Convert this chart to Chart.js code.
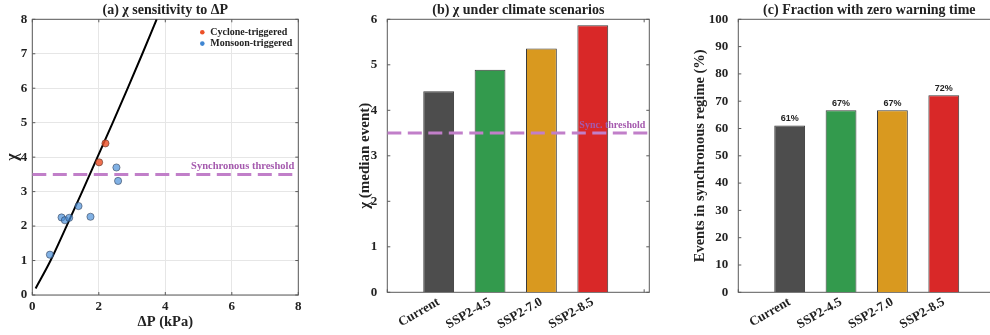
<!DOCTYPE html>
<html>
<head>
<meta charset="utf-8">
<script src="https://cdn.jsdelivr.net/npm/chart.js@4.4.1/dist/chart.umd.min.js"></script>
<style>
    html, body { margin: 0; padding: 0; background: #fff; width: 990px; height: 335px; overflow: hidden; position: relative; }
    canvas { position: absolute; top: 0; }
</style>
</head>
<body>
<canvas id="sensChart" width="330" height="335" style="left:0"></canvas>
<canvas id="chiChart" width="330" height="335" style="left:330px"></canvas>
<canvas id="fracChart" width="345" height="335" style="left:660px"></canvas>
<script>
// Panel (a) - events
const CYCLONE_DP = [2.20, 2.01];
const CYCLONE_CHI = [4.40, 3.85];
const MONSOON_DP = [0.53, 0.88, 0.98, 1.11, 1.39, 1.75, 2.53, 2.58];
const MONSOON_CHI = [1.17, 2.25, 2.17, 2.24, 2.58, 2.27, 3.70, 3.31];
// fitted curve
const CURVE_DP = [0.10, 0.55, 1.03, 1.50, 1.96, 2.42, 2.87, 3.31, 3.74];
const CURVE_CHI = [0.19, 1.00, 2.00, 3.00, 4.00, 5.00, 6.00, 7.00, 8.00];
const SYNC_THRESHOLD = 3.5;

// Panels (b) and (c)
const SCENARIOS = ['Current', 'SSP2-4.5', 'SSP2-7.0', 'SSP2-8.5'];
const CHI_MEDIAN = [4.42, 4.89, 5.36, 5.87];
const SYNC_PCT = [61.1, 66.7, 66.7, 72.2];

// Theme
const FONT = "'Liberation Serif', 'Times New Roman', serif";
const TEXT = '#222';
const FRAME = '#5a5a5a';
const THRESH_LINE = '#c17fc9';
const THRESH_TEXT = '#a55aae';
const BAR_COLORS = ['#4d4d4d', '#339a4d', '#d9991f', '#d92828'];
const TICK_SIZE = 13;

Chart.defaults.font.family = FONT;
Chart.defaults.font.weight = 'bold';
Chart.defaults.color = TEXT;
Chart.defaults.animation = false;
Chart.defaults.plugins.legend.display = false;
Chart.defaults.plugins.tooltip.enabled = false;

const toPoints = (xs, ys) => xs.map((x, i) => ({ x, y: ys[i] }));

// box, inward ticks, title and labels (MATLAB look)
function decor(cfg) {
    return {
        id: 'decor',
        beforeDatasetsDraw(chart) {
            const { ctx, chartArea: a, scales } = chart;
            ctx.save();
            ctx.strokeStyle = FRAME;
            ctx.lineWidth = 1;
            ctx.strokeRect(a.left, a.top, a.right - a.left, a.bottom - a.top);
            const tl = 3;
            ctx.beginPath();
            scales.y.ticks.forEach(t => {
                const p = scales.y.getPixelForValue(t.value);
                ctx.moveTo(a.left, p); ctx.lineTo(a.left + tl, p);
                ctx.moveTo(a.right, p); ctx.lineTo(a.right - tl, p);
            });
            cfg.xTicks.forEach(v => {
                const p = scales.x.getPixelForValue(v);
                ctx.moveTo(p, a.bottom); ctx.lineTo(p, a.bottom - tl);
                ctx.moveTo(p, a.top); ctx.lineTo(p, a.top + tl);
            });
            ctx.stroke();
            ctx.restore();
        },
        afterDraw(chart) {
            const { ctx, chartArea: a, scales } = chart;
            ctx.save();
            ctx.fillStyle = TEXT;
            ctx.font = `bold 14px ${FONT}`;
            ctx.textAlign = 'center';
            ctx.textBaseline = 'middle';
            ctx.fillText(cfg.title, (a.left + a.right) / 2, 10);

            if (cfg.threshLabel) {
                ctx.fillStyle = THRESH_TEXT;
                ctx.font = `bold ${cfg.threshSize}px ${FONT}`;
                ctx.textAlign = 'right';
                ctx.fillText(cfg.threshLabel, a.right - 4, scales.y.getPixelForValue(SYNC_THRESHOLD) - 8);
            }

            if (cfg.legend) {
                ctx.font = `bold 10px ${FONT}`;
                ctx.textAlign = 'left';
                cfg.legend.forEach((item, i) => {
                    const y = a.top + 13 + i * 11.3;
                    ctx.fillStyle = item.color;
                    ctx.beginPath();
                    ctx.arc(a.left + 170, y, 2.3, 0, Math.PI * 2);
                    ctx.fill();
                    ctx.fillStyle = TEXT;
                    ctx.fillText(item.label, a.left + 178, y);
                });
            }

            if (cfg.barLabels) {
                const meta = chart.getDatasetMeta(1);
                ctx.fillStyle = TEXT;
                ctx.font = "bold 9px 'Liberation Sans', Arial, sans-serif";
                ctx.textAlign = 'center';
                meta.data.forEach((bar, i) => {
                    ctx.fillText(Math.round(SYNC_PCT[i]) + '%', bar.x, bar.y - 7);
                });
            }
            ctx.restore();
        }
    };
}

function thresholdDataset(xMax) {
    return {
        type: 'line',
        data: [{ x: 0, y: SYNC_THRESHOLD }, { x: xMax, y: SYNC_THRESHOLD }],
        borderColor: THRESH_LINE,
        borderWidth: 3,
        borderDash: [14, 6.5],
        pointRadius: 0,
        order: 0
    };
}

function renderSensitivityChart() {
    const ctx = document.getElementById('sensChart').getContext('2d');
    new Chart(ctx, {
        type: 'scatter',
        data: {
            datasets: [
                thresholdDataset(8),
                {
                    data: toPoints(CURVE_DP, CURVE_CHI),
                    showLine: true,
                    cubicInterpolationMode: 'monotone',
                    borderColor: '#000',
                    borderWidth: 2,
                    pointRadius: 0,
                    order: 1
                },
                {
                    data: toPoints(MONSOON_DP, MONSOON_CHI),
                    backgroundColor: 'rgba(70,140,215,0.68)',
                    borderColor: 'rgba(40,50,70,0.75)',
                    borderWidth: 0.7,
                    pointRadius: 3.6,
                    order: 0
                },
                {
                    data: toPoints(CYCLONE_DP, CYCLONE_CHI),
                    backgroundColor: 'rgba(236,80,40,0.82)',
                    borderColor: 'rgba(70,40,30,0.75)',
                    borderWidth: 0.7,
                    pointRadius: 3.6,
                    order: 0
                }
            ]
        },
        options: {
            responsive: false,
            layout: { padding: { left: 0, top: 19.3, right: 31.7, bottom: 0 } },
            scales: {
                x: {
                    type: 'linear', min: 0, max: 8,
                    ticks: { stepSize: 2, padding: 4, font: { size: TICK_SIZE } },
                    grid: { color: '#e6e6e6', drawTicks: false },
                    border: { display: false },
                    title: { display: true, text: 'ΔP (kPa)', font: { size: 14.5 }, padding: { top: 0, bottom: 4 } },
                    afterFit: s => { s.height = 40; }
                },
                y: {
                    min: 0, max: 8,
                    ticks: { stepSize: 1, padding: 5, font: { size: TICK_SIZE } },
                    grid: { color: '#e6e6e6', drawTicks: false },
                    border: { display: false },
                    title: { display: true, text: 'χ', font: { size: 16 }, padding: { top: 3.5, bottom: 0 } },
                    afterFit: s => { s.width = 32.3; }
                }
            }
        },
        plugins: [decor({
            title: '(a) χ sensitivity to ΔP',
            xTicks: [0, 2, 4, 6, 8],
            threshLabel: 'Synchronous threshold',
            threshSize: 10.5,
            legend: [
                { label: 'Cyclone-triggered', color: '#ec5028' },
                { label: 'Monsoon-triggered', color: '#3f86d2' }
            ]
        })]
    });
}

function scenarioXAxis() {
    return {
        type: 'linear', min: 0, max: 5.1, offset: false,
        afterBuildTicks: s => { s.ticks = SCENARIOS.map((_, i) => ({ value: i + 1 })); },
        ticks: {
            autoSkip: false, minRotation: 30, maxRotation: 30, padding: 2,
            font: { size: TICK_SIZE },
            callback: v => SCENARIOS[v - 1]
        },
        grid: { display: false, drawTicks: false, offset: false },
        border: { display: false },
        afterFit: s => { s.height = 42.7; }
    };
}

function barDataset(values) {
    return {
        data: toPoints(SCENARIOS.map((_, i) => i + 1), values),
        backgroundColor: BAR_COLORS,
        borderColor: '#3a3a3a',
        borderWidth: 1,
        barPercentage: 0.6,
        categoryPercentage: 1,
        order: 1
    };
}

function renderChiChart() {
    const ctx = document.getElementById('chiChart').getContext('2d');
    new Chart(ctx, {
        type: 'bar',
        data: { datasets: [thresholdDataset(5.1), barDataset(CHI_MEDIAN)] },
        options: {
            responsive: false,
            layout: { padding: { left: 0, top: 19.3, right: 10.7, bottom: 0 } },
            scales: {
                x: scenarioXAxis(),
                y: {
                    min: 0, max: 6,
                    ticks: { stepSize: 1, padding: 10, font: { size: TICK_SIZE } },
                    grid: { display: false, drawTicks: false },
                    border: { display: false },
                    title: { display: true, text: 'χ (median event)', font: { size: 15 }, padding: { top: 26, bottom: 0 } },
                    afterFit: s => { s.width = 57.3; }
                }
            }
        },
        plugins: [decor({
            title: '(b) χ under climate scenarios',
            xTicks: [0, 5],
            threshLabel: 'Sync. threshold',
            threshSize: 10
        })]
    });
}

function renderFractionChart() {
    const ctx = document.getElementById('fracChart').getContext('2d');
    new Chart(ctx, {
        type: 'bar',
        data: { datasets: [{ type: 'line', data: [], order: 0 }, barDataset(SYNC_PCT)] },
        options: {
            responsive: false,
            layout: { padding: { left: 0, top: 19.3, right: 4.7, bottom: 0 } },
            scales: {
                x: scenarioXAxis(),
                y: {
                    min: 0, max: 100,
                    ticks: { stepSize: 10, padding: 10, font: { size: TICK_SIZE } },
                    grid: { display: false, drawTicks: false },
                    border: { display: false },
                    title: { display: true, text: 'Events in synchronous regime (%)', font: { size: 14.5 }, padding: { top: 31.3, bottom: 0 } },
                    afterFit: s => { s.width = 78.3; }
                }
            }
        },
        plugins: [decor({
            title: '(c) Fraction with zero warning time',
            xTicks: [0, 5],
            barLabels: true
        })]
    });
}

document.addEventListener('DOMContentLoaded', () => {
    renderSensitivityChart();
    renderChiChart();
    renderFractionChart();
});
</script>
</body>
</html>
